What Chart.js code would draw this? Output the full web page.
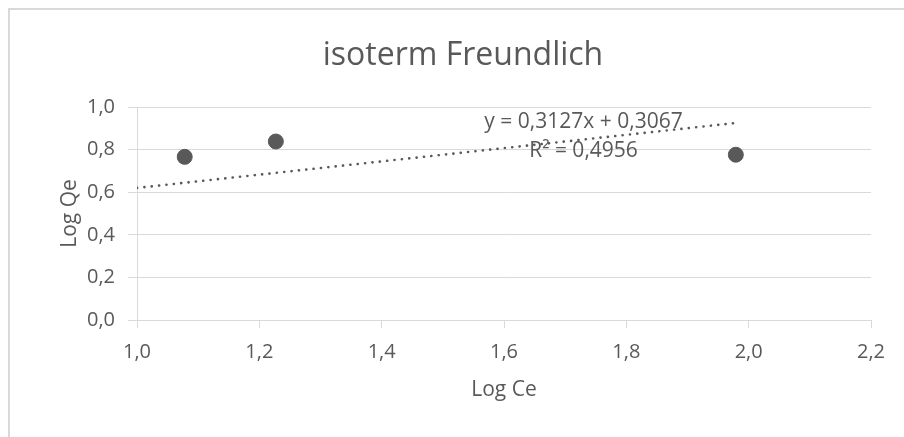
<!DOCTYPE html>
<html lang="en">
<head>
    <meta charset="UTF-8">
    <title>isoterm Freundlich</title>
    <script src="https://cdn.jsdelivr.net/npm/chart.js"></script>
    <style>
        body { margin: 0; background: #fff; }
        #wrap { position: relative; width: 904px; height: 437px; }
        #frame { position: absolute; left: 8px; top: 8px; width: 940px; height: 470px;
                 border: 2px solid #d9d9d9; box-sizing: border-box; }
        canvas { position: absolute; left: 0; top: 0; }
    </style>
</head>
<body>
    <div id="wrap">
        <div id="frame"></div>
        <canvas id="chart" width="904" height="437"></canvas>
    </div>

    <script>
        // data
        const logCe = [1.078, 1.227, 1.979];
        const logQe = [0.766, 0.838, 0.776];
        const trendX = [1.0, 1.979];
        const trendY = [0.620, 0.925];
        const equationLines = ['y = 0,3127x + 0,3067', 'R² = 0,4956'];
        const labelAnchor = { x: 1.73, y: 0.902 };

        const grey = '#595959';
        const gridGrey = '#d9d9d9';
        const fontFamily = '"Open Sans", sans-serif';

        function commaFmt(v) {
            return v.toFixed(1).replace('.', ',');
        }

        const titlePlugin = {
            id: 'excelTitle',
            afterDraw(chart) {
                const ctx = chart.ctx;
                ctx.save();
                ctx.fillStyle = grey;
                ctx.font = '32px ' + fontFamily;
                ctx.textAlign = 'center';
                ctx.textBaseline = 'alphabetic';
                ctx.fillText('isoterm Freundlich', 463, 65);

                // trendline equation
                const xs = chart.scales.x, ys = chart.scales.y;
                const px = xs.getPixelForValue(labelAnchor.x);
                const py = ys.getPixelForValue(labelAnchor.y);
                ctx.font = '21px ' + fontFamily;
                ctx.fillText(equationLines[0], px, py);
                ctx.fillText(equationLines[1], px, py + 29);
                ctx.restore();
            }
        };

        new Chart(document.getElementById('chart'), {
            type: 'scatter',
            data: {
                datasets: [{
                    label: 'Log Qe',
                    data: logCe.map((x, i) => ({ x: x, y: logQe[i] })),
                    backgroundColor: grey,
                    borderColor: grey,
                    pointRadius: 7.5,
                    order: 1
                }, {
                    type: 'line',
                    label: 'trend',
                    data: trendX.map((x, i) => ({ x: x, y: trendY[i] })),
                    borderColor: grey,
                    borderWidth: 2.6,
                    borderDash: [0.1, 7.3],
                    borderCapStyle: 'round',
                    pointRadius: 0,
                    fill: false,
                    order: 2
                }]
            },
            options: {
                responsive: false,
                animation: false,
                layout: { padding: { left: 57, right: 33, top: 107, bottom: 34 } },
                plugins: {
                    legend: { display: false },
                    tooltip: { enabled: false }
                },
                scales: {
                    x: {
                        type: 'linear',
                        min: 1.0,
                        max: 2.2,
                        afterFit(scale) { scale.height = 83; },
                        ticks: {
                            stepSize: 0.2,
                            color: grey,
                            padding: 12,
                            font: { family: fontFamily, size: 20 },
                            callback: v => commaFmt(v)
                        },
                        grid: { drawOnChartArea: false, drawTicks: true, tickLength: 8, color: gridGrey },
                        border: { color: gridGrey },
                        title: {
                            display: true,
                            text: 'Log Ce',
                            color: grey,
                            padding: 0,
                            font: { family: fontFamily, size: 21 }
                        }
                    },
                    y: {
                        min: 0,
                        max: 1.0,
                        afterFit(scale) { scale.width = 80; },
                        ticks: {
                            stepSize: 0.2,
                            color: grey,
                            padding: 13,
                            font: { family: fontFamily, size: 20 },
                            callback: v => commaFmt(v)
                        },
                        grid: { color: gridGrey, tickLength: 9 },
                        border: { color: gridGrey },
                        title: {
                            display: true,
                            text: 'Log Qe',
                            color: grey,
                            padding: 0,
                            font: { family: fontFamily, size: 21 }
                        }
                    }
                }
            },
            plugins: [titlePlugin]
        });
    </script>
</body>
</html>
